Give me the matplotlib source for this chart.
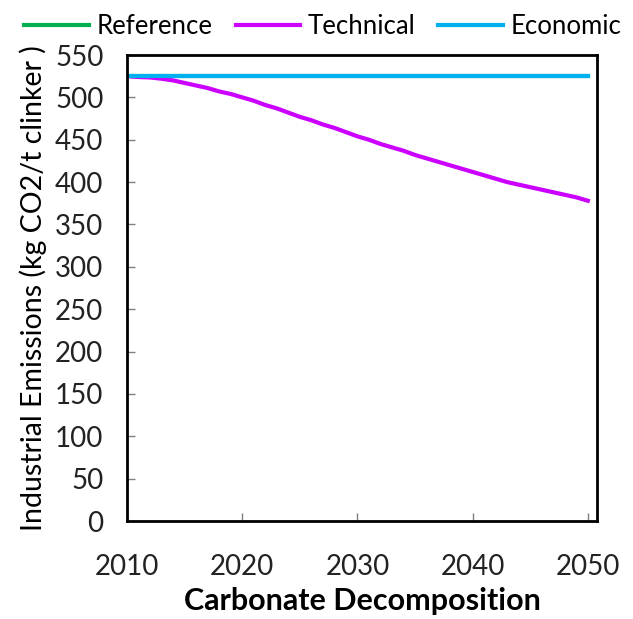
import matplotlib
matplotlib.use('Agg')
import matplotlib.pyplot as plt
import numpy as np

# data
years = list(range(2010, 2051))
reference = [525] * len(years)
economic = [525] * len(years)
technical = [525, 524, 523.5, 522, 520, 517, 514, 511, 507, 504,
             500, 496, 491, 487, 482, 477, 473, 468, 464, 459,
             454, 450, 445, 441, 437, 432, 428, 424, 420, 416,
             412, 408, 404, 400, 397, 394, 391, 388, 385, 382, 378]
x_ticks = [2010, 2020, 2030, 2040, 2050]
y_ticks = list(range(0, 551, 50))

plt.rcParams['font.family'] = ['Lato', 'DejaVu Sans']

fig = plt.figure(figsize=(6.33, 6.19), dpi=100)
ax = fig.add_axes([127 / 633, 1 - 521 / 619, 470 / 633, 466 / 619])

ax.plot(years, reference, color='#00b050', linewidth=3, label='Reference')
ax.plot(years, technical, color='#cc00ff', linewidth=3, label='Technical')
ax.plot(years, economic, color='#00b0f0', linewidth=3, label='Economic')

ax.set_xlim(2010, 2050.8)
ax.set_ylim(0, 550)
ax.set_xticks(x_ticks)
ax.set_yticks(y_ticks)
ax.tick_params(axis='both', direction='in', length=6, width=1, color='#808080',
               labelsize=20, labelcolor='#222222')
ax.tick_params(axis='x', pad=24)
ax.tick_params(axis='y', pad=17)

for sp in ax.spines.values():
    sp.set_linewidth(2)
    sp.set_color('black')

ax.set_xlabel('Carbonate Decomposition', fontsize=22, fontweight='bold', labelpad=5)
ax.set_ylabel('Industrial Emissions (kg CO2/t clinker )', fontsize=20.5, labelpad=6)

fig.legend(loc='upper center', bbox_to_anchor=(0.51, 1.015), ncol=3, frameon=False,
           fontsize=18.5, handlelength=2.5, handletextpad=0.3, columnspacing=0.9)

fig.savefig('out.png', dpi=100)
